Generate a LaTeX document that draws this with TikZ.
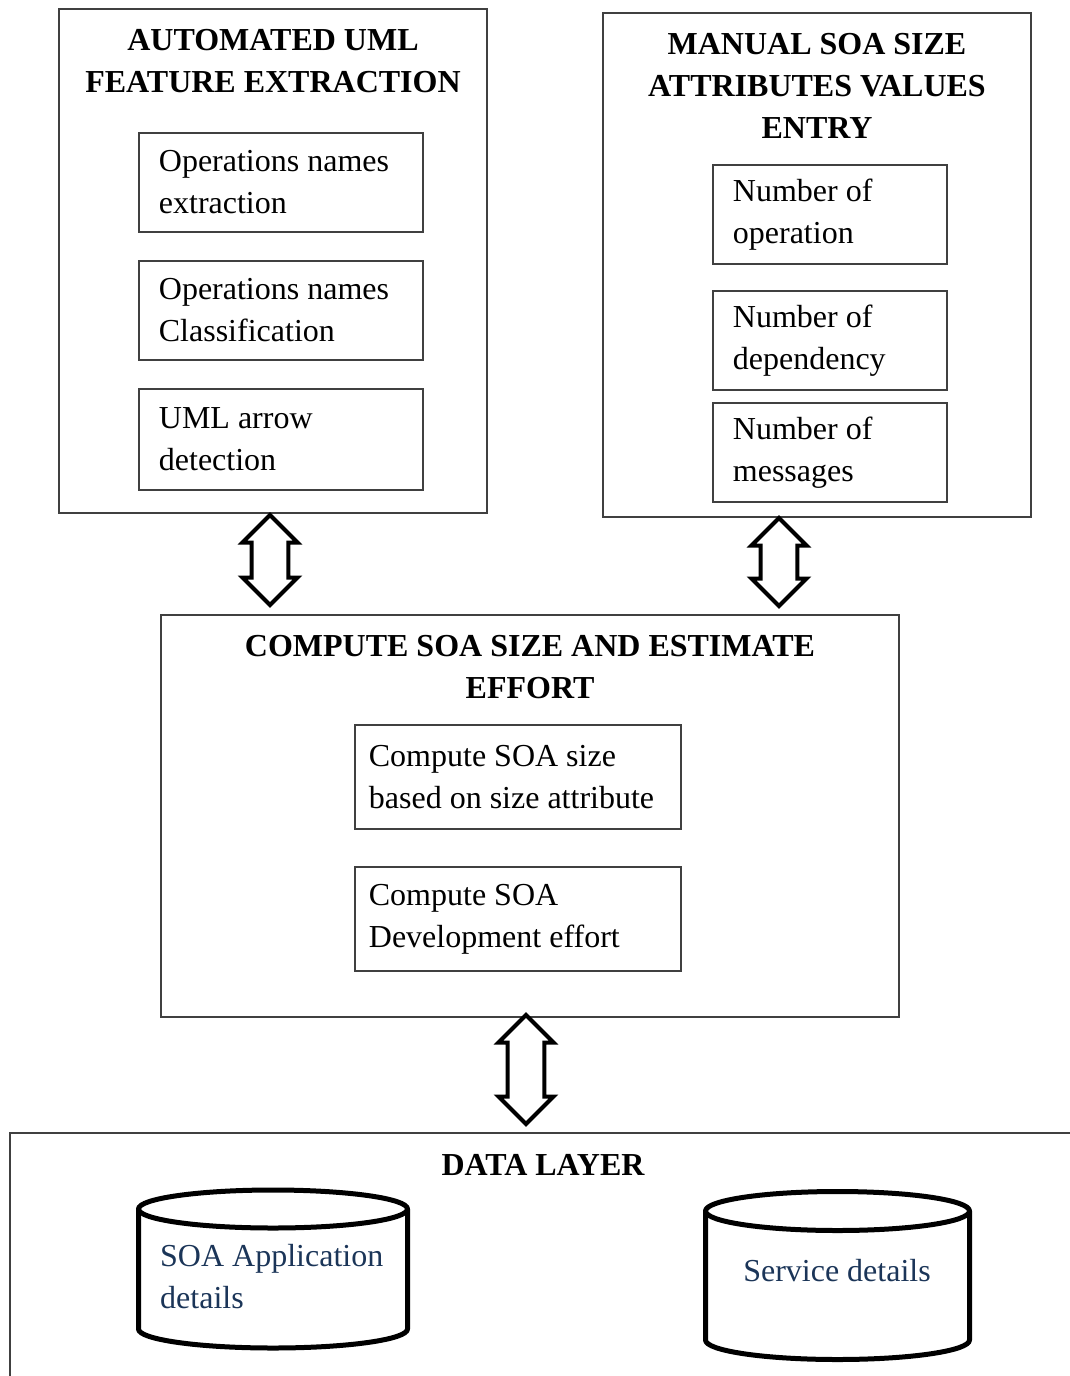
\documentclass[tikz,border=0pt]{standalone}
\usepackage{fontspec}
\setmainfont{Liberation Serif}
\usetikzlibrary{shapes.arrows}

\definecolor{dbtext}{HTML}{1B3558}

\tikzset{
  panel/.style={draw=black!75, line width=2pt, anchor=north west, inner sep=0pt},
  heading/.style={anchor=north, align=center, inner sep=0pt, yshift=-21pt,
    font=\fontsize{32}{42}\selectfont\bfseries},
  item/.style={draw=black!75, line width=1.8pt, anchor=north west, align=flush left,
    inner xsep=20pt, inner ysep=0pt, text width=#1,
    font=\fontsize{32}{42}\selectfont},
  link/.style={draw, line width=4pt, shape=double arrow, rotate=90, fill=white,
    minimum width=55pt, inner xsep=0pt, inner ysep=12.5pt},
  cyl/.style={draw, line width=5pt, line join=round},
  storetext/.style={inner sep=0pt, text=dbtext, align=flush left,
    font=\fontsize{32}{42}\selectfont},
}

\begin{document}
\begin{tikzpicture}[x=1pt, y=-1pt]
  \useasboundingbox (0,0) rectangle (1070,1376);

  % upper panels
  \node[panel, minimum width=428pt, minimum height=504pt] (auto) at (58,8) {};
  \node[heading] (autot) at (auto.north) {AUTOMATED UML\\FEATURE EXTRACTION};
  \node[item=244pt, minimum height=99pt] (ext) at (138,132) {Operations names\\extraction};
  \node[item=244pt, minimum height=99pt] (cls) at (138,260) {Operations names\\Classification};
  \node[item=244pt, minimum height=101pt] (arw) at (138,388) {UML arrow\\detection};

  \node[panel, minimum width=428pt, minimum height=504pt] (manual) at (602,12) {};
  \node[heading] (manualt) at (manual.north) {MANUAL SOA SIZE\\ATTRIBUTES VALUES\\ENTRY};
  \node[item=194pt, minimum height=99pt] (nop) at (712,164) {Number of\\operation};
  \node[item=194pt, minimum height=99pt] (ndep) at (712,290) {Number of\\dependency};
  \node[item=194pt, minimum height=99pt] (nmsg) at (712,402) {Number of\\messages};

  % compute panel
  \node[panel, minimum width=738pt, minimum height=402pt] (comp) at (160,614) {};
  \node[heading] (compt) at (comp.north) {COMPUTE SOA SIZE AND ESTIMATE\\EFFORT};
  \node[item=298pt, minimum height=104pt, inner xsep=14pt] (csize) at (354,724) {Compute SOA size\\based on size attribute};
  \node[item=298pt, minimum height=104pt, inner xsep=14pt] (ceff) at (354,866) {Compute SOA\\Development effort};

  % data layer
  \draw[draw=black!75, line width=2pt] (1072,1133) -| (10,1380);
  \node[heading] (datat) at (543,1133) {DATA LAYER};

  % data stores
  \draw[cyl] (273,1209) ellipse [x radius=134.5pt, y radius=19pt];
  \draw[cyl] (138.5,1209) -- (138.5,1329)
    arc[start angle=180, end angle=360, x radius=134.5pt, y radius=19pt] -- (407.5,1209);
  \node[storetext, anchor=west] (db1) at (160,1277) {SOA Application\\details};

  \draw[cyl] (837.5,1211) ellipse [x radius=132pt, y radius=19.5pt];
  \draw[cyl] (705.5,1211) -- (705.5,1340)
    arc[start angle=180, end angle=360, x radius=132pt, y radius=19.5pt] -- (969.5,1211);
  \node[storetext] (db2) at (837,1271) {Service details};

  % double arrows
  \node[link, minimum height=90pt] (l1) at (270,560) {};
  \node[link, minimum height=88pt] (l2) at (779,562) {};
  \node[link, minimum height=109pt] (l3) at (526,1069.5) {};
\end{tikzpicture}
\end{document}
